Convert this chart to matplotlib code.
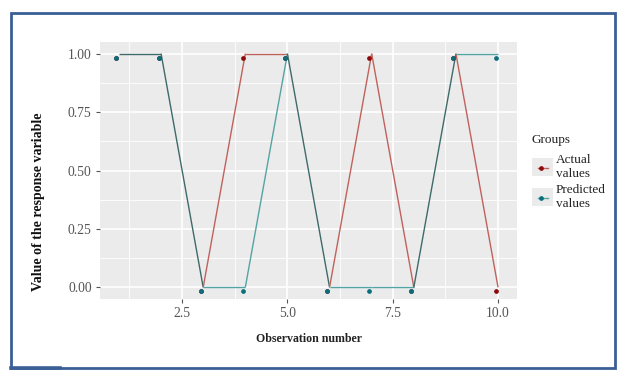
import matplotlib
matplotlib.use("Agg")
import matplotlib.pyplot as plt
from matplotlib.patches import Rectangle
from matplotlib.lines import Line2D
import numpy as np

# observations
obs = [1, 2, 3, 4, 5, 6, 7, 8, 9, 10]
actual = [1, 1, 0, 1, 1, 0, 1, 0, 1, 0]
predicted = [1, 1, 0, 0, 1, 0, 0, 0, 1, 1]

x_ticks = [2.5, 5.0, 7.5, 10.0]
x_tick_labels = ["2.5", "5.0", "7.5", "10.0"]
y_ticks = [0.0, 0.25, 0.5, 0.75, 1.0]
y_tick_labels = ["0.00", "0.25", "0.50", "0.75", "1.00"]

red_line = "#C0625C"
teal_line = "#55A3A3"
overlap_line = "#3E6A6A"
red_dot = "#8E0A0A"
teal_dot = "#0A6E7C"
tick_gray = "#555555"
serif = ["Liberation Serif", "DejaVu Serif"]

W, H = 628, 382
fig = plt.figure(figsize=(W / 100, H / 100), dpi=100)
fig.patch.set_facecolor("white")

# panel in pixel coords: left 100, top 42, right 517, bottom 299
ax = fig.add_axes([100 / W, (H - 299) / H, 417 / W, 257 / H])
ax.set_facecolor("#EBEBEB")
for s in ax.spines.values():
    s.set_visible(False)

ax.set_xlim(0.55, 10.45)
ax.set_ylim(-0.05, 1.05)

# grid: minor then major
for xv in [1.25, 3.75, 6.25, 8.75]:
    ax.axvline(xv, color="white", lw=0.6, zorder=0)
for yv in [0.125, 0.375, 0.625, 0.875]:
    ax.axhline(yv, color="white", lw=0.6, zorder=0)
for xv in x_ticks:
    ax.axvline(xv, color="white", lw=1.2, zorder=0)
for yv in y_ticks:
    ax.axhline(yv, color="white", lw=1.2, zorder=0)

# lines, segment by segment so coinciding stretches look darker
for i in range(len(obs) - 1):
    xs = obs[i:i + 2]
    a = actual[i:i + 2]
    p = predicted[i:i + 2]
    if a == p:
        ax.plot(xs, a, color=overlap_line, lw=1.0, zorder=2, solid_capstyle="butt")
    else:
        ax.plot(xs, a, color=red_line, lw=1.0, zorder=2, solid_capstyle="butt")
        ax.plot(xs, p, color=teal_line, lw=1.0, zorder=2, solid_capstyle="butt")

# points sit slightly offset from the line vertices
dx, dy = -0.06, -0.017
ax.plot(np.array(obs) + dx, np.array(actual) + dy, "o", color=red_dot, ms=2.4, zorder=3)
ax.plot(np.array(obs) + dx, np.array(predicted) + dy, "o", color=teal_dot, ms=2.4, zorder=4)

ax.set_xticks(x_ticks)
ax.set_xticklabels(x_tick_labels)
ax.set_yticks(y_ticks)
ax.set_yticklabels(y_tick_labels)
ax.tick_params(axis="both", length=3, width=0.8, color=tick_gray,
               labelcolor=tick_gray, labelsize=9.8, pad=3)
for lab in ax.get_xticklabels() + ax.get_yticklabels():
    lab.set_family(serif)

ax.set_xlabel("Observation number", family=serif, fontsize=8.6, fontweight="bold",
              color="#222222")
ax.xaxis.set_label_coords(0.5, -0.132)
ax.set_ylabel("Value of the response variable", family=serif, fontsize=10,
              fontweight="bold", color="#111111")
ax.yaxis.set_label_coords(-0.133, 0.377)

# legend, drawn by hand in pixel coords
def fx(px):
    return px / W

def fy(py):
    return (H - py) / H

fig.text(fx(531), fy(140), "Groups", family=serif, fontsize=9.5, color="#222222",
         va="center", ha="left")
entries = [("Actual\nvalues", red_dot, red_line, 167), ("Predicted\nvalues", teal_dot, teal_line, 197)]
for label, dcol, lcol, cy in entries:
    fig.add_artist(Rectangle((fx(532), fy(cy + 9)), 21 / W, 18 / H,
                             transform=fig.transFigure, facecolor="#EBEBEB",
                             edgecolor="none"))
    fig.add_artist(Line2D([fx(538), fx(548)], [fy(cy + 1), fy(cy + 1)],
                          transform=fig.transFigure, color=lcol, lw=1.0))
    fig.add_artist(Line2D([fx(541)], [fy(cy + 1)], transform=fig.transFigure,
                          marker="o", ms=2.4, color=dcol))
    fig.text(fx(556), fy(cy), label, family=serif, fontsize=9.5, color="#222222",
             va="center", ha="left", linespacing=1.25)

# surrounding blue frame
frame_col = "#3A5F95"
fig.add_artist(Rectangle((fx(11), fy(368)), 604 / W, 355 / H, transform=fig.transFigure,
                         facecolor="none", edgecolor=frame_col, lw=2.0))
fig.add_artist(Line2D([fx(11), fx(60)], [fy(368), fy(368)], transform=fig.transFigure,
                      color=frame_col, lw=2.6))

fig.savefig("out.png", dpi=100)
